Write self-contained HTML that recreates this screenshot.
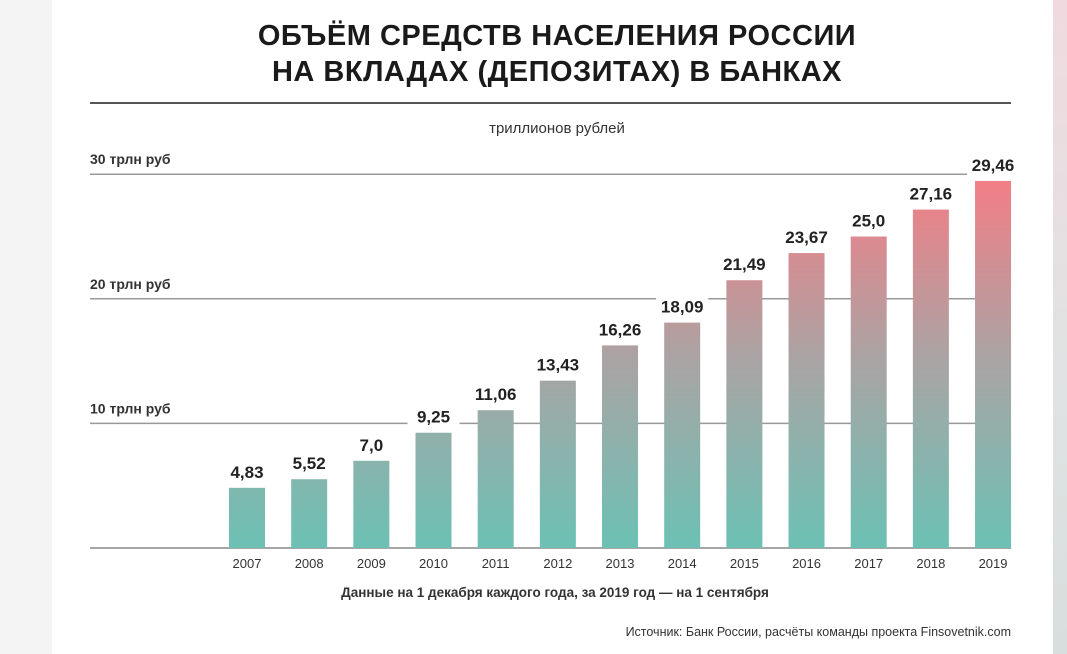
<!DOCTYPE html>
<html><head><meta charset="utf-8"><style>
html,body{margin:0;padding:0;background:#f4f4f4;}
body{width:1067px;height:654px;position:relative;overflow:hidden;font-family:"Liberation Sans",sans-serif;}
#card{position:absolute;left:52px;top:0;width:1001px;height:654px;background:#fff;}
#strip{position:absolute;left:1053px;top:0;width:14px;height:654px;background:linear-gradient(#f0dadf,#dfe3e3 60%,#d8dedd);}
svg{position:absolute;left:0;top:0;}
</style></head><body>
<div id="card"></div>
<div id="strip"></div>
<svg width="1067" height="654">
<defs><linearGradient id="g" gradientUnits="userSpaceOnUse" x1="0" y1="548" x2="0" y2="175">
<stop offset="0" stop-color="#6cc1b4"/><stop offset="0.5" stop-color="#a9a4a4"/><stop offset="1" stop-color="#f47d85"/></linearGradient></defs>
<text x="557" y="45" text-anchor="middle" font-size="29" font-weight="bold" fill="#1a1a1a" letter-spacing="0.5">ОБЪЁМ СРЕДСТВ НАСЕЛЕНИЯ РОССИИ</text>
<text x="557" y="81" text-anchor="middle" font-size="29" font-weight="bold" fill="#1a1a1a" letter-spacing="0.5">НА ВКЛАДАХ (ДЕПОЗИТАХ) В БАНКАХ</text>
<line x1="90" y1="103" x2="1011" y2="103" stroke="#555" stroke-width="2"/>
<text x="557" y="133" text-anchor="middle" font-size="15" fill="#333">триллионов рублей</text>
<g id="grid"></g><g id="bars"></g><g id="labels"></g>
<text x="555" y="597" text-anchor="middle" font-size="13.5" font-weight="bold" fill="#333">Данные на 1 декабря каждого года, за 2019 год — на 1 сентября</text>
<text x="1011" y="636" text-anchor="end" font-size="12.5" fill="#333">Источник: Банк России, расчёты команды проекта Finsovetnik.com</text>
</svg>
<script>
const years=["2007","2008","2009","2010","2011","2012","2013","2014","2015","2016","2017","2018","2019"];
const values=[4.83,5.52,7.0,9.25,11.06,13.43,16.26,18.09,21.49,23.67,25.0,27.16,29.46];
const valueLabels=["4,83","5,52","7,0","9,25","11,06","13,43","16,26","18,09","21,49","23,67","25,0","27,16","29,46"];
const gridTicks=[10,20,30];
const gridLabels=["10 трлн руб","20 трлн руб","30 трлн руб"];
const NS="http://www.w3.org/2000/svg";
const y0=548,k=12.46;
const y=v=>y0-v*k;
const xc=i=>247+i*62.17;
function mk(t,a,p){const e=document.createElementNS(NS,t);for(const n in a)e.setAttribute(n,a[n]);p.appendChild(e);return e;}
const grid=document.getElementById('grid'),bars=document.getElementById('bars'),labels=document.getElementById('labels');
gridTicks.forEach((t,i)=>{
 const l=mk('line',{x1:90,x2:1011,y1:y(t),y2:y(t),stroke:'#999','stroke-width':1.5},grid);
 
 
 const tx=mk('text',{x:90,y:y(t)-10,'font-size':14,'font-weight':'bold',fill:'#333'},grid);
 tx.textContent=gridLabels[i];
 
 
});
const base=mk('line',{x1:90,x2:1011,y1:y0,y2:y0,stroke:'#888','stroke-width':1.5},grid);


years.forEach((yr,i)=>{
 const r=mk('rect',{x:xc(i)-18,y:y(values[i]),width:36,height:values[i]*k,fill:'url(#g)'},bars);
 
 
 const bg=mk('rect',{x:xc(i)-26,y:y(values[i])-27,width:52,height:22,fill:'#fff'},labels);
 
 
 const v=mk('text',{x:xc(i),y:y(values[i])-10,'text-anchor':'middle','font-size':17,'font-weight':'bold',fill:'#222'},labels);
 v.textContent=valueLabels[i];
 
 
 const t=mk('text',{x:xc(i),y:568,'text-anchor':'middle','font-size':13,fill:'#333'},labels);
 t.textContent=yr;
 
 
});
</script>
</body></html>
